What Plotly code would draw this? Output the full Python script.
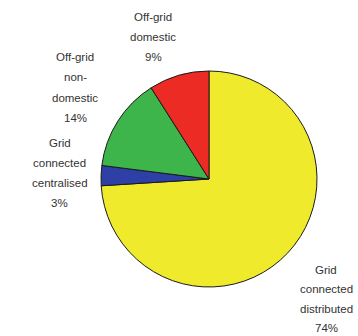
import plotly.graph_objects as go

# Data
categories = ["Grid connected distributed", "Grid connected centralised",
              "Off-grid non-domestic", "Off-grid domestic"]
shares = [74, 3, 14, 9]
label_lines = [
    ["Grid", "connected", "distributed", "74%"],
    ["Grid", "connected", "centralised", "3%"],
    ["Off-grid", "non-", "domestic", "14%"],
    ["Off-grid", "domestic", "9%"],
]

colors = ["#F0EA2C", "#2E3FA6", "#3DB54A", "#EC2B24"]

W, H = 358, 336

fig = go.Figure(go.Pie(
    labels=categories,
    values=shares,
    sort=False,
    direction="clockwise",
    rotation=0,
    marker=dict(colors=colors, line=dict(color="#1a1a1a", width=1)),
    textinfo="none",
    hoverinfo="label+percent",
    showlegend=False,
    domain=dict(x=[101 / W, 317 / W], y=[1 - 287 / H, 1 - 71 / H]),
))

# label anchor (center x px, first line y px, line spacing px)
label_pos = [(326, 270, 19.3), (60, 143, 20), (75, 57, 20.3), (153, 17, 20)]

annotations = []
for lines, (cx, y0, dy) in zip(label_lines, label_pos):
    for i, line in enumerate(lines):
        annotations.append(dict(
            x=cx / W, y=1 - (y0 + i * dy) / H, xref="paper", yref="paper",
            text=line, showarrow=False, xanchor="center", yanchor="middle",
            font=dict(family="Liberation Sans, Arial, sans-serif", size=11.5, color="#333333"),
        ))

fig.update_layout(
    width=W, height=H,
    margin=dict(l=0, r=0, t=0, b=0),
    paper_bgcolor="white", plot_bgcolor="white",
    annotations=annotations,
)

fig.write_html("out.html", config={"displayModeBar": False})
